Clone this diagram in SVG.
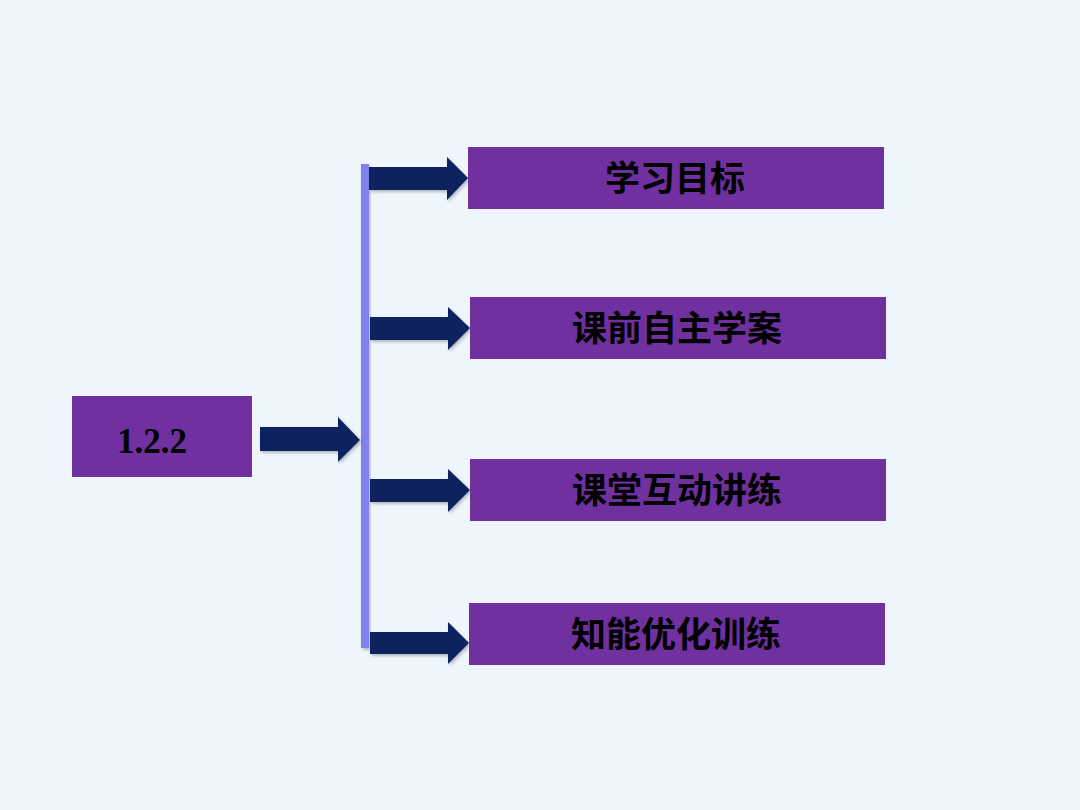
<svg xmlns="http://www.w3.org/2000/svg" width="1080" height="810" viewBox="0 0 1080 810">
<defs>
<style>
.box{fill:#7030a0;}
.arr{fill:#0d215e;}
.cn{font-family:"Noto Sans CJK SC",sans-serif;font-weight:bold;font-size:35px;fill:#000;text-anchor:middle;dominant-baseline:central;}
.num{font-family:"Liberation Serif",serif;font-weight:bold;font-size:35px;fill:#000;text-anchor:middle;}
</style>
<filter id="sh" x="-10%" y="-10%" width="130%" height="140%">
<feDropShadow dx="1.5" dy="2" stdDeviation="1.5" flood-color="#000" flood-opacity="0.25"/>
</filter>
</defs>
<rect width="1080" height="810" fill="#eef5fd"/>
<g id="connectors">
<rect x="361" y="164" width="8" height="484" fill="#8080ee" filter="url(#sh)"/>
<polygon class="arr" filter="url(#sh)" points="260,427 338,427 338,417 360,440 338,462 338,451 260,451"/>
<polygon class="arr" filter="url(#sh)" points="369,167 447,167 447,157 468,178 447,200 447,190 369,190"/>
<polygon class="arr" filter="url(#sh)" points="370,317 448,317 448,307 470,328 448,350 448,340 370,340"/>
<polygon class="arr" filter="url(#sh)" points="370,479 448,479 448,469 470,490 448,512 448,502 370,502"/>
<polygon class="arr" filter="url(#sh)" points="370,632 448,632 448,622 469,643 448,664 448,654 370,654"/>
</g>
<g id="node-root">
<rect class="box" x="72" y="396" width="180" height="81"/>
<text class="num" x="152" y="453">1.2.2</text>
</g>
<g id="node-1">
<rect class="box" x="468" y="147" width="416" height="62"/>
<text class="cn" x="675" y="175">学习目标</text>
</g>
<g id="node-2">
<rect class="box" x="470" y="297" width="416" height="62"/>
<text class="cn" x="677" y="325">课前自主学案</text>
</g>
<g id="node-3">
<rect class="box" x="470" y="459" width="416" height="62"/>
<text class="cn" x="677" y="487">课堂互动讲练</text>
</g>
<g id="node-4">
<rect class="box" x="469" y="603" width="416" height="62"/>
<text class="cn" x="676" y="631">知能优化训练</text>
</g>
</svg>
